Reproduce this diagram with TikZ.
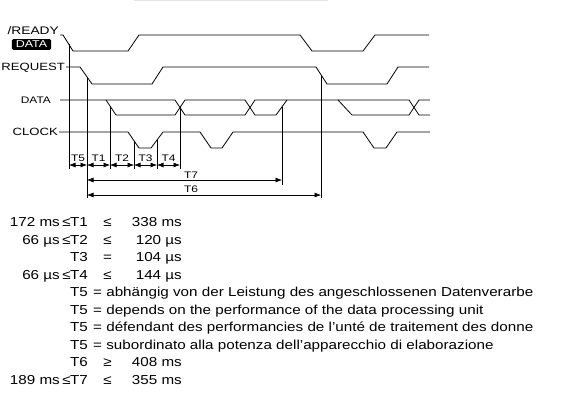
\documentclass[tikz,border=0pt]{standalone}
\usepackage{fontspec}
\setmainfont[FakeStretch=1.25]{Liberation Sans}
\newfontfamily\bodyfont[FakeStretch=1.17]{Liberation Sans}
\usetikzlibrary{arrows.meta}
\tikzset{
  sig/.style={line width=0.8pt},
  markline/.style={line width=0.55pt},
  dimarr/.style={{Latex[length=6.5pt,width=5pt]}-{Latex[length=6.5pt,width=5pt]}, line width=0.6pt},
  lbl/.style={font=\fontsize{10.5}{13}\selectfont, inner sep=0pt, anchor=east},
  tlbl/.style={font=\fontsize{9.5}{11}\selectfont, inner sep=0pt},
  txt/.style={font=\bodyfont\fontsize{13}{15}\selectfont, inner sep=0pt, anchor=base west},
}
\begin{document}
\begin{tikzpicture}[x=1pt,y=-1pt]
    \useasboundingbox (0,0) rectangle (561,402);
    \draw[gray!20, line width=1pt] (134,0.5) -- (328,0.5);
    \node[lbl, font=\fontsize{11}{13}\selectfont] (rdy) at (59,31) {/READY};
    \node[fill=black, rounded corners=1.5pt, text=white, font=\fontsize{10}{11}\selectfont,
        inner xsep=4pt, inner ysep=2pt] (rdybox) at (31.5,44.5) {DATA};
    \node[lbl] (req) at (65,68) {REQUEST};
    \node[lbl, font=\fontsize{9.5}{11}\selectfont] (dat) at (51,100) {DATA};
    \node[lbl] (clk) at (58,132) {CLOCK};
    \draw[sig] (60,35) -- (63,35) -- (73,51) -- (128,51) -- (139,35) -- (300,35) -- (312,51)
        -- (363,51) -- (375,35) -- (429,35);
    \draw[sig] (66,67) -- (80,67) -- (92,84) -- (152,84) -- (163,67) -- (316,67) -- (327,84)
        -- (387,84) -- (398,67) -- (429,67);
    \draw[sig] (60,100) -- (175,100) -- (185,115) -- (245,115) -- (255,100) -- (338,100)
        -- (352,115) -- (409,115) -- (419,100) -- (430,100);
    \draw[sig] (106,100) -- (116,115) -- (175,115) -- (185,100) -- (245,100) -- (255,115)
        -- (276,115) -- (287,100);
    \draw[sig] (338,100) -- (409,100) -- (419,115) -- (430,115);
    \draw[sig] (59,132) -- (128,132) -- (139,148) -- (151,148) -- (163,132) -- (200,132)
        -- (211,148) -- (222,148) -- (233,132) -- (363,132) -- (374,148) -- (386,148)
        -- (397,132) -- (430,132);
    \foreach \x/\ya/\yb [count=\i from 0] in {69/44/169, 87/77/198, 110/106/169, 134/141/169,
        157/140/169, 180/107/169, 282/107/185, 321/75/198}
        {
        \draw[markline] (\x,\ya) -- (\x,\yb);
        \coordinate (m\i) at (\x,165);
        }
    \foreach \a/\b/\t in {0/1/T5, 1/2/T1, 2/3/T2, 3/4/T3, 4/5/T4}
        \draw[dimarr] (m\a) -- (m\b) node[tlbl, midway, above=3pt] (l\t) {\t};
    \draw[dimarr] (m1 |- 0,180) -- (m6 |- 0,180);
    \node[tlbl] (lT7) at (191,175) {T7};
    \draw[dimarr] (m1 |- 0,195) -- (m7 |- 0,195);
    \node[tlbl] (lT6) at (191,189.5) {T6};
    \foreach \lo/\le/\tn/\rel/\hi/\r in {172 ms/≤/T1/≤/338 ms/0, 66 µs/≤/T2/≤/120 µs/1,
        //T3/=/104 µs/2, 66 µs/≤/T4/≤/144 µs/3, //T6/≥/408 ms/8, 189 ms/≤/T7/≤/355 ms/9}
        {
        \node[txt, anchor=base east] (lo\r) at (60,{226.5+17.5*\r}) {\lo};
        \node[txt, anchor=base] (le\r) at (66.5,{226.5+17.5*\r}) {\le};
        \node[txt] (tn\r) at (70,{226.5+17.5*\r}) {\tn};
        \node[txt, anchor=base] (rel\r) at (107.5,{226.5+17.5*\r}) {\rel};
        \node[txt, anchor=base east] (hi\r) at (182,{226.5+17.5*\r}) {\hi};
        }
    \foreach \s [count=\r from 4] in {abhängig von der Leistung des angeschlossenen Datenverarbe,
        depends on the performance of the data processing unit,
        défendant des performancies de l’unté de traitement des donne,
        subordinato alla potenza dell’apparecchio di elaborazione}
        {
        \node[txt] (tn\r) at (70,{226.5+17.5*\r}) {T5};
        \node[txt] (def\r) at (93,{226.5+17.5*\r}) {= \s};
        }
\end{tikzpicture}
\end{document}
